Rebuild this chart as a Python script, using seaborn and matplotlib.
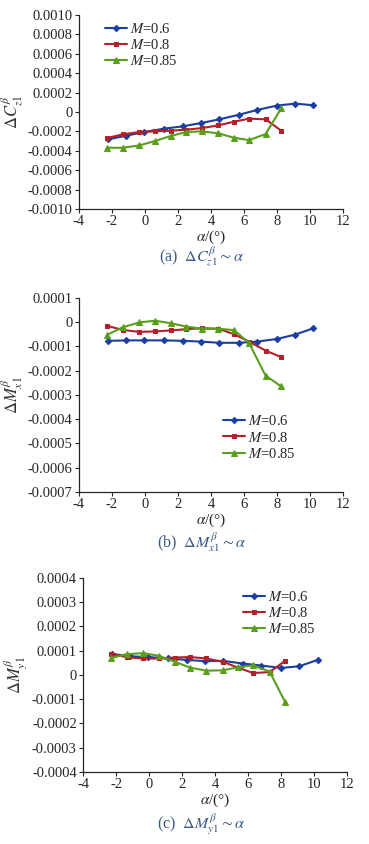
import numpy as np
import pandas as pd
import matplotlib
matplotlib.use('Agg')
import matplotlib.pyplot as plt
from matplotlib.ticker import FuncFormatter
import seaborn as sns

sns.set_style('ticks')
plt.rcParams['font.family'] = ['Liberation Serif', 'DejaVu Serif']
plt.rcParams['mathtext.fontset'] = 'stix'
plt.rcParams['axes.unicode_minus'] = False

# angle of attack, deg
alpha_06 = [-2.25, -1.15, -0.05, 1.15, 2.3, 3.4, 4.5, 5.7, 6.8, 8.0, 9.1, 10.2]
alpha_08 = [-2.3, -1.35, -0.35, 0.6, 1.55, 2.5, 3.45, 4.45, 5.4, 6.3, 7.3, 8.25]
alpha_085 = [-2.3, -1.35, -0.35, 0.6, 1.55, 2.5, 3.45, 4.45, 5.4, 6.3, 7.3, 8.25]

# (a) dCz1
cz_06 = [-0.000283, -0.000245, -0.000207, -0.000172, -0.000148, -0.000114, -0.000076, -0.000028, 0.000021, 0.000066, 0.000086, 0.000069]
cz_08 = [-0.000269, -0.000231, -0.000207, -0.0002, -0.000193, -0.000183, -0.000166, -0.000138, -0.0001, -0.000069, -0.000076, -0.000193]
cz_085 = [-0.000369, -0.000369, -0.000345, -0.0003, -0.000248, -0.000207, -0.0002, -0.000221, -0.000266, -0.00029, -0.000228, 0.000038]

# (b) dMx1
mx_06 = [-0.000077, -0.000075, -0.000075, -0.000075, -0.000077, -0.00008, -0.000085, -0.000085, -0.00008, -0.000069, -0.000051, -0.000025]
mx_08 = [-0.000015, -0.000032, -0.00004, -0.000038, -0.000034, -0.000029, -0.000025, -0.000027, -0.00005, -0.00008, -0.000117, -0.000144]
mx_085 = [-0.000052, -0.000021, -0.000001, 0.000006, -0.000004, -0.000018, -0.000027, -0.000027, -0.000033, -0.000086, -0.00022, -0.000265]

# (c) dMy1
my_06 = [0.000087, 0.000077, 0.000074, 0.000068, 0.000062, 0.000057, 0.000058, 0.000047, 0.000039, 0.000029, 0.000036, 0.000062]
my_08 = [0.000088, 0.000073, 0.000068, 0.000068, 0.000072, 0.000074, 0.000068, 0.000055, 0.00003, 0.000008, 0.000012, 0.000059]
my_085 = [0.00007, 0.000086, 0.00009, 0.000079, 0.000055, 0.00003, 0.000018, 0.000019, 0.000032, 0.00004, 0.000014, -0.000113]

mach_labels = ['$M$=0.6', '$M$=0.8', '$M$=0.85']
colors = ['#1c3ea0', '#b3202a', '#5a9e1e']
markers = ['D', 's', '^']
msizes = [3.2, 3.5, 4.5]


def make_df(v06, v08, v085):
    parts = []
    for a, v, lab in zip([alpha_06, alpha_08, alpha_085], [v06, v08, v085], mach_labels):
        parts.append(pd.DataFrame({'alpha': a, 'val': v, 'M': lab}))
    return pd.concat(parts, ignore_index=True)


def yfmt(v, pos):
    if abs(v) < 1e-12:
        return '0'
    return f'{v:.4f}'


panels = [
    (make_df(cz_06, cz_08, cz_085), [0.214, 0.7524, 0.716, 0.2299], (-0.001, 0.001), 0.0002,
     r'$\Delta C_{z1}^{\beta}$', (0.098, 0.965), r'(a)  $\Delta C_{z1}^{\beta}\sim\alpha$', 1 - 256 / 844),
    (make_df(mx_06, mx_08, mx_085), [0.214, 0.4171, 0.716, 0.2299], (-0.0007, 0.0001), 0.0001,
     r'$\Delta M_{x1}^{\beta}$', (0.545, 0.40), r'(b)  $\Delta M_{x1}^{\beta}\sim\alpha$', 1 - 543 / 844),
    (make_df(my_06, my_08, my_085), [0.225, 0.0853, 0.716, 0.2299], (-0.0004, 0.0004), 0.0001,
     r'$\Delta M_{y1}^{\beta}$', (0.606, 0.94), r'(c)  $\Delta M_{y1}^{\beta}\sim\alpha$', 1 - 824 / 844),
]

fig = plt.figure(figsize=(3.69, 8.44), dpi=100)

for df, pos, ylim, ystep, ylab, legpos, cap, capy in panels:
    ax = fig.add_axes(pos)
    for lab, c, mk, ms in zip(mach_labels, colors, markers, msizes):
        d = df[df['M'] == lab]
        sns.lineplot(data=d, x='alpha', y='val', ax=ax, color=c, marker=mk, markersize=ms,
                     markeredgecolor=c, linewidth=1.5, label=lab, sort=False)
    ax.set_xlim(-4, 12)
    ax.set_xticks(np.arange(-4, 13, 2))
    ax.set_ylim(*ylim)
    ax.set_yticks(np.arange(ylim[0], ylim[1] + ystep / 2, ystep))
    ax.yaxis.set_major_formatter(FuncFormatter(yfmt))
    ax.tick_params(labelsize=10.5, length=3, width=0.8, pad=1.5)
    ax.set_xlabel(r'$\alpha$/(°)', fontsize=11, labelpad=0)
    ax.set_ylabel(ylab, fontsize=12, labelpad=2, color='#333333')
    sns.despine(ax=ax)
    for s in ['left', 'bottom']:
        ax.spines[s].set_linewidth(0.9)
    ax.legend(loc='upper left', bbox_to_anchor=legpos, frameon=False, fontsize=10.5,
              handlelength=1.5, handletextpad=0.2, labelspacing=0.15, borderpad=0,
              borderaxespad=0)
    fig.text(0.545, capy, cap, ha='center', va='center', fontsize=11.5, color='#3b5a8a')

fig.savefig('out.png', dpi=100)
